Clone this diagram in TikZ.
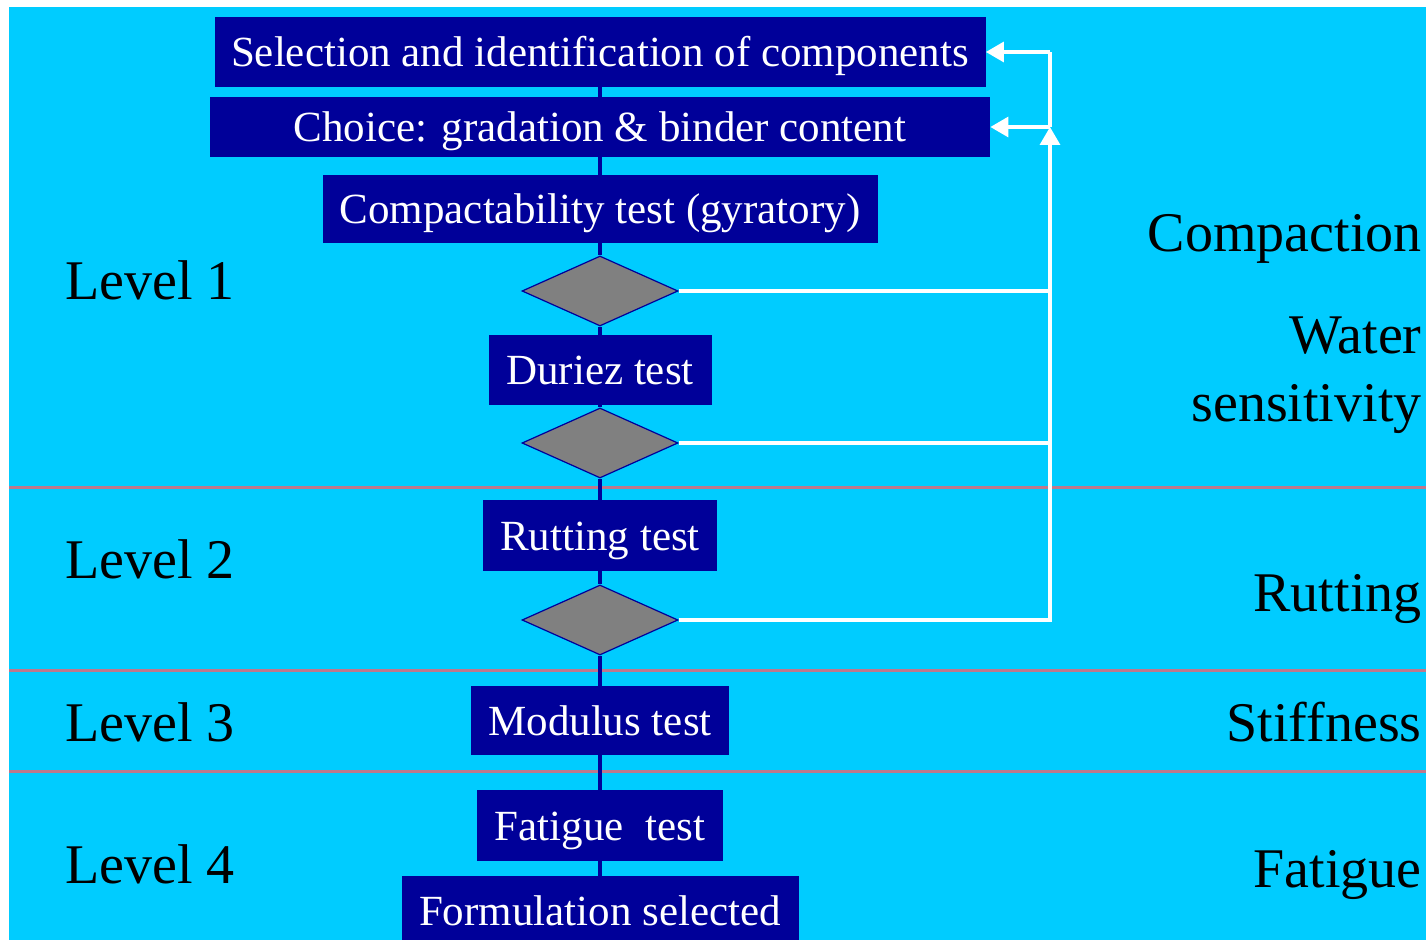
\documentclass[tikz,border=0pt]{standalone}
\usepackage{fontspec}
\setmainfont{Liberation Serif}
\usepackage{tikz}
\usetikzlibrary{shapes.geometric,arrows.meta}
\definecolor{skyback}{RGB}{0,204,255}
\definecolor{boxblue}{RGB}{0,0,153}
\definecolor{sepline}{RGB}{190,120,140}
\definecolor{checkgray}{RGB}{128,128,128}
\tikzset{
  testbox/.style={fill=boxblue, text=white, inner sep=0pt,
    text height=20.4pt, text depth=5.4pt,
    font=\fontsize{21.5}{24}\selectfont},
  checkpt/.style={diamond, draw=boxblue, fill=checkgray, inner sep=0pt,
    minimum width=78pt, minimum height=35pt, line width=0.6pt},
  flow/.style={draw=boxblue, line width=2pt},
  back/.style={draw=white, line width=1.6pt},
  backarrow/.style={back, -{Triangle[length=9pt,width=10pt]}},
  sidetext/.style={font=\fontsize{28}{32}\selectfont, inner sep=0pt},
}

\begin{document}
\begin{tikzpicture}[x=0.5pt, y=-0.5pt]
    \useasboundingbox (0,0) rectangle (1426,940);
    \clip (0,0) rectangle (1426,940);
    \fill[skyback] (9,7) rectangle (1426,940);
    % level separators
    \foreach \yy in {488,671,772}
      \draw[sepline, line width=1.5pt] (9,\yy) -- (1426,\yy);

    % level 1
    \node[testbox, minimum width=385.5pt, minimum height=35pt](select) at (600,52)
      {Selection and identification of components};
    \node[testbox, minimum width=390pt, minimum height=30pt](choice) at (600,127)
      {Choice: gradation \& binder content};
    \node[testbox, minimum width=277.5pt, minimum height=34pt](compact) at (600,209)
      {Compactability test (gyratory)};
    \node[checkpt](chk1) at (600,291){};
    \node[testbox, minimum width=111.5pt, minimum height=35pt](duriez) at (600,370)
      {Duriez test};
    \node[checkpt](chk2) at (600,443){};
    % level 2
    \node[testbox, minimum width=117pt, minimum height=35.5pt](rutting) at (600,535.5)
      {Rutting test};
    \node[checkpt](chk3) at (600,620){};
    % level 3
    \node[testbox, minimum width=129pt, minimum height=34.5pt](modulus) at (600,720.5)
      {Modulus test};
    % level 4
    \node[testbox, minimum width=123pt, minimum height=35.5pt](fatigue) at (600,825.5)
      {Fatigue\ \ test};
    \node[testbox, minimum width=198.5pt, minimum height=35pt](formul) at (600,911)
      {Formulation selected};

    % main chain
    \draw[flow] (select) -- (choice);
    \draw[flow] (choice) -- (compact);
    \draw[flow] (compact) -- (chk1);
    \draw[flow] (chk1) -- (duriez);
    \draw[flow] (duriez) -- (chk2);
    \draw[flow] (chk2) -- (rutting);
    \draw[flow] (rutting) -- (chk3);
    \draw[flow] (chk3) -- (modulus);
    \draw[flow] (modulus) -- (fatigue);
    \draw[flow] (fatigue) -- (formul);

    % feedback loop
    \coordinate (loop) at (1050,52);
    \draw[back] (chk1.east) -- (chk1.east -| loop);
    \draw[back] (chk2.east) -- (chk2.east -| loop);
    \draw[backarrow] (chk3.east) -| (choice.east -| loop);
    \draw[back] (choice.east -| loop) -- (loop);
    \draw[backarrow] (loop) -- (select.east);
    \draw[backarrow] (choice.east -| loop) -- (choice.east);

    % levels
    \node[sidetext, anchor=base west](lev1) at (65,300){Level 1};
    \node[sidetext, anchor=base west](lev2) at (65,579){Level 2};
    \node[sidetext, anchor=base west](lev3) at (65,742){Level 3};
    \node[sidetext, anchor=base west](lev4) at (65,884){Level 4};

    % properties
    \node[sidetext, anchor=base east](pcompact) at (1422,252){Compaction};
    \node[sidetext, anchor=base east](pwater) at (1422,354){Water};
    \node[sidetext, anchor=base east](psens) at (1422,422){sensitivity};
    \node[sidetext, anchor=base east](prut) at (1422,612){Rutting};
    \node[sidetext, anchor=base east](pstiff) at (1422,742){Stiffness};
    \node[sidetext, anchor=base east](pfat) at (1422,888){Fatigue};
\end{tikzpicture}
\end{document}
